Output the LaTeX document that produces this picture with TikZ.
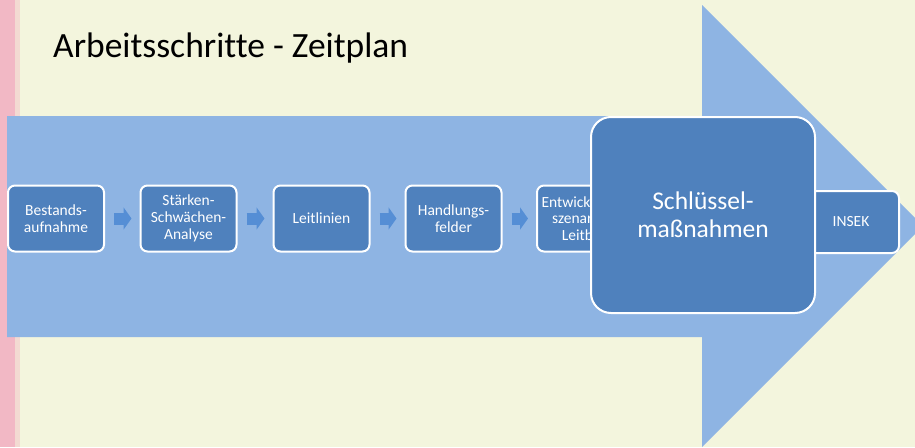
\documentclass[tikz,border=0pt]{standalone}
\usepackage{fontspec}
\setmainfont{Carlito}[Ligatures=CommonOff]
\usetikzlibrary{arrows.meta}
\definecolor{paper}{RGB}{243,245,221}
\definecolor{margin}{RGB}{242,184,197}
\definecolor{band}{RGB}{142,180,227}
\definecolor{boxblue}{RGB}{79,129,189}
\definecolor{flowblue}{RGB}{85,142,213}
\tikzset{step-box/.style={draw=white, line width=2pt, fill=boxblue, rounded corners=7pt,
    minimum width=96pt, minimum height=66pt, inner sep=2pt, text=white, align=center,
    font=\fontsize{15.5}{16.7}\selectfont}}
\tikzset{key-box/.style={step-box, minimum width=224pt, minimum height=196pt,
    rounded corners=20pt, font=\fontsize{25.5}{28}\selectfont}}
\tikzset{flow-arrow/.style={-{Triangle[length=8pt,width=22pt]}, line width=12pt, flowblue}}

\begin{document}
\begin{tikzpicture}[x=1pt, y=-1pt]
      \useasboundingbox (0,0) rectangle (915,447);
      \clip (0,0) rectangle (915,447);
      \fill[paper] (0,0) rectangle (915,447);
      \fill[margin] (0,0) rectangle (15,447);
      \fill[margin!45!paper] (15,0) rectangle (20,447);

      % the big timeline arrow
      \fill[band] (7,116) -- (702,116) -- (702,5) -- (923,226) -- (702,447)
        -- (702,337) -- (7,337) -- cycle;

      \node[anchor=base west, inner sep=0pt, font=\fontsize{35.5}{40}\selectfont] (title)
        at (53,57) {Arbeitsschritte - Zeitplan};

      \node[step-box] (survey) at (56, 218.5) {Bestands-\\aufnahme};
      \node[step-box] (swot) at (188.5, 218.5) {Stärken-\\Schwächen-\\Analyse};
      \node[step-box] (guides) at (321.5, 218.5) {Leitlinien};
      \node[step-box] (fields) at (453.5, 218.5) {Handlungs-\\felder};
      \node[step-box] (vision) at (585, 218.5) {Entwicklungs-\\szenarien/\\Leitbild};
      \node[step-box, minimum height=62pt] (insek) at (851, 222) {INSEK};
      \node[key-box] (key) at (703, 215) {Schlüssel-\\maßnahmen};

      \draw[flow-arrow] ([xshift=9pt]survey.east) -- ([xshift=-8pt]swot.west);
      \draw[flow-arrow] ([xshift=9pt]swot.east) -- ([xshift=-8pt]guides.west);
      \draw[flow-arrow] ([xshift=9pt]guides.east) -- ([xshift=-8pt]fields.west);
      \draw[flow-arrow] ([xshift=9pt]fields.east) -- ([xshift=-8pt]vision.west);
    \end{tikzpicture}
\end{document}
